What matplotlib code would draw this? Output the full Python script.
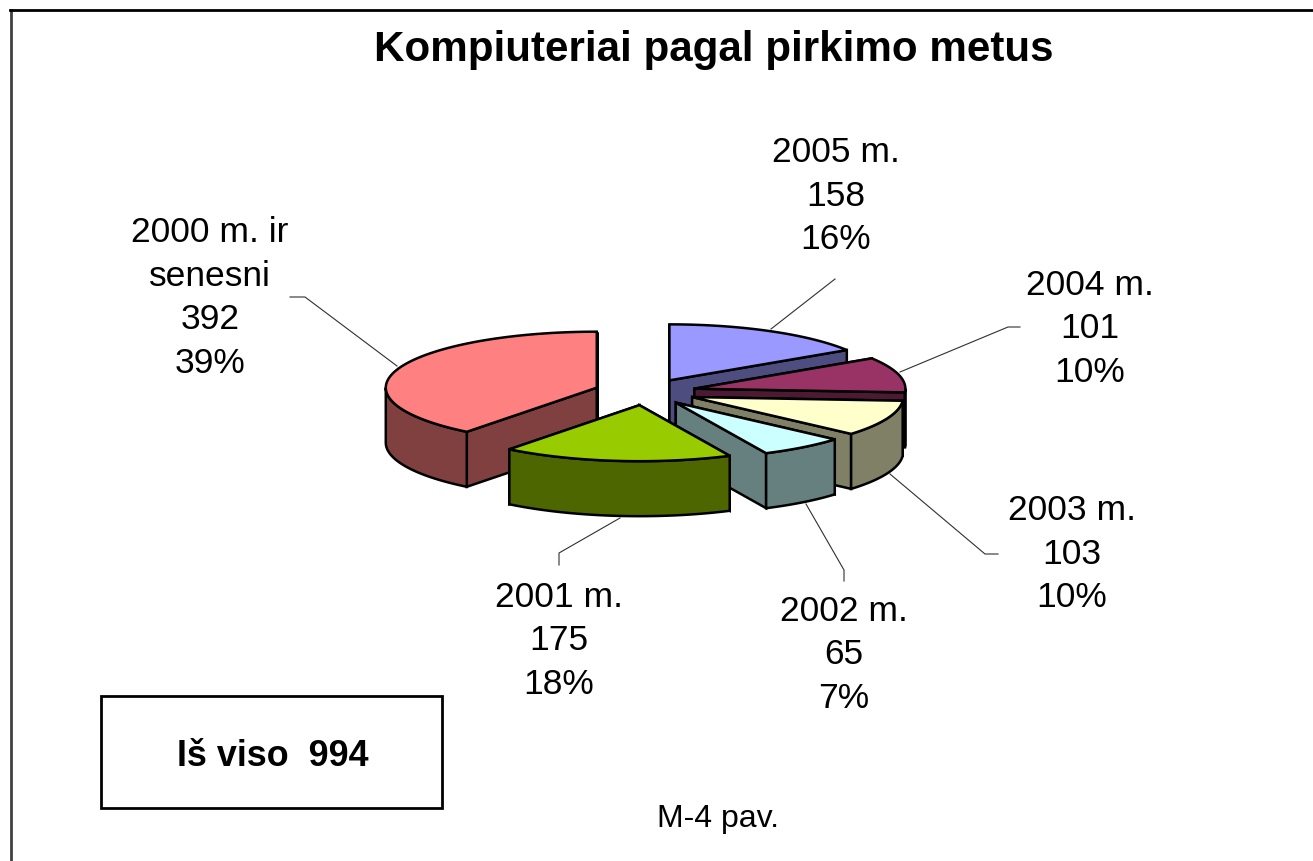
import numpy as np
import matplotlib
matplotlib.use("Agg")
import matplotlib.pyplot as plt
from matplotlib.patches import Polygon, Rectangle

plt.rcParams['font.family'] = ['Liberation Sans', 'DejaVu Sans']

years = ["2005 m.", "2004 m.", "2003 m.", "2002 m.", "2001 m.", "2000 m. ir\nsenesni"]
counts = [158, 101, 103, 65, 175, 392]
percents = [16, 10, 10, 7, 18, 39]
colors = ["#9999FF", "#993366", "#FFFFCC", "#CCFFFF", "#99CC00", "#FF8080"]
total = 994

# pie geometry in picture pixels
cx, cy = 645, 392
rx, ry = 211, 56
depth = 55
explode = 51
draw_order = [0, 1, 2, 5, 3, 4]

# label centres and leader lines, one per slice
label_pos = [(836, 196), (1090, 329), (1072, 554), (844, 655), (559, 641), (210, 298)]
leaders = [
    [(771, 329), (835, 279)],
    [(900, 372), (1008, 327), (1020, 327)],
    [(890, 474), (985, 554), (998, 554)],
    [(806, 504), (844, 570), (844, 581)],
    [(620, 518), (559, 553), (559, 565)],
    [(397, 366), (305, 297), (290, 297)],
]


def rim(theta, x0, y0):
    return np.column_stack([x0 + rx * np.sin(theta), y0 - ry * np.cos(theta)])


fig = plt.figure(figsize=(13.13, 8.61), dpi=100)
ax = fig.add_axes([0, 0, 1, 1])
ax.set_xlim(0, 1313)
ax.set_ylim(861, 0)
ax.axis("off")

# frame runs off the right and bottom of the picture
ax.plot([11, 11], [861, 10], color="#404040", lw=2, zorder=1)
ax.plot([10, 1313], [10, 10], color="black", lw=2, zorder=1)

fractions = np.array(counts) / sum(counts)
edges = np.concatenate([[0], np.cumsum(fractions)]) * 2 * np.pi

z = 2
for i in draw_order:
    t0, t1 = edges[i], edges[i + 1]
    mid = (t0 + t1) / 2
    x0 = cx + explode * np.sin(mid)
    y0 = cy - explode * 0.26 * np.cos(mid)
    apex = np.array([x0, y0])
    down = np.array([0, depth])
    side = np.array(matplotlib.colors.to_rgb(colors[i])) * 0.5

    # the two cut faces
    for t in (t0, t1):
        p = rim(np.array([t]), x0, y0)[0]
        ax.add_patch(Polygon([apex, p, p + down, apex + down], fc=side, ec="black", lw=1.8, zorder=z))
    # the outer wall, front half only
    a, b = max(t0, np.pi / 2), min(t1, 3 * np.pi / 2)
    if b > a:
        arc = rim(np.linspace(a, b, 60), x0, y0)
        ax.add_patch(Polygon(np.vstack([arc, arc[::-1] + down]), fc=side, ec="black", lw=1.8, zorder=z))
    top = rim(np.linspace(t0, t1, 80), x0, y0)
    ax.add_patch(Polygon(np.vstack([apex, top]), fc=colors[i], ec="black", lw=1.8, zorder=z))
    z += 1

for i in range(len(years)):
    xs, ys = zip(*leaders[i])
    ax.plot(xs, ys, color="#303030", lw=0.8, zorder=1)
    ax.text(label_pos[i][0], label_pos[i][1], f"{years[i]}\n{counts[i]}\n{percents[i]}%",
            ha="center", va="center", fontsize=25.5, linespacing=1.41, color="black", zorder=20)

ax.text(714, 50, "Kompiuteriai pagal pirkimo metus", ha="center", va="center",
        fontsize=30.3, fontweight="bold")

ax.add_patch(Rectangle((101, 696), 341, 112, fc="white", ec="black", lw=2, zorder=2))
ax.text(273, 756, f"Iš viso  {total}", ha="center", va="center", fontsize=25.8, fontweight="bold")
ax.text(718, 819, "M-4 pav.", ha="center", va="center", fontsize=23)

fig.savefig("out.png", dpi=100)
